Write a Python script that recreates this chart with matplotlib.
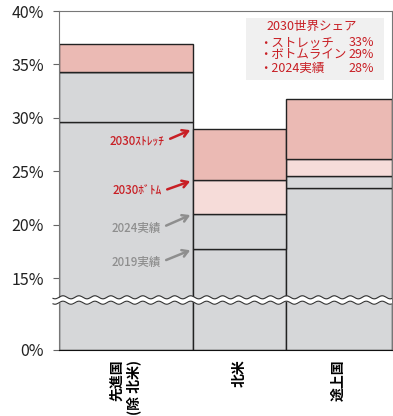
import numpy as np
import matplotlib
matplotlib.use('Agg')
from matplotlib import pyplot as plt
from matplotlib.patches import Rectangle

plt.rcParams['font.family'] = ['Noto Sans CJK JP', 'DejaVu Sans']

# データ（％）
regions = ['先進国\n(除 北米)', '北米', '途上国']
bar_widths = [13.4, 9.3, 10.6]          # 横幅（相対値）
actual_2019 = [29.6, 17.7, 23.4]
actual_2024 = [34.3, 21.0, 24.6]
bottom_2030 = [34.3, 24.15, 26.1]
stretch_2030 = [36.9, 28.95, 31.8]

yticks = [0, 15, 20, 25, 30, 35, 40]
ytick_labels = ['0%', '15%', '20%', '25%', '30%', '35%', '40%']

share_title = '2030世界シェア'
share_labels = ['・ストレッチ', '・ボトムライン', '・2024実績']
share_values = ['33%', '29%', '28%']

GRAY = '#d6d7d9'
PINK = '#ebbab4'
LPINK = '#f6dcd9'
RED = '#c81e24'
TXTGRAY = '#8e8e8e'

# 0〜15% を圧縮する軸
BREAK = 15.0
K = 0.449


def fwd(v):
    v = np.asarray(v, dtype=float)
    return np.where(v >= BREAK, v, BREAK - (BREAK - v) * K)


def inv(v):
    v = np.asarray(v, dtype=float)
    return np.where(v >= BREAK, v, BREAK - (BREAK - v) / K)


fig = plt.figure(figsize=(3.93, 4.16), dpi=100)
ax = fig.add_axes([59 / 393, 1 - 350 / 416, 332.5 / 393, 339 / 416])
ax.set_yscale('function', functions=(fwd, inv))

lefts = np.concatenate([[0], np.cumsum(bar_widths)[:-1]])
layers = [
    (np.zeros(3), actual_2019, GRAY),
    (actual_2019, actual_2024, GRAY),
    (actual_2024, bottom_2030, LPINK),
    (bottom_2030, stretch_2030, PINK),
]
for lo, hi, col in layers:
    lo = np.asarray(lo)
    hi = np.asarray(hi)
    ax.bar(lefts, hi - lo, width=bar_widths, bottom=lo, align='edge',
           color=col, edgecolor='#222222', linewidth=1.0, zorder=2)

ax.set_xlim(0, sum(bar_widths))
ax.set_ylim(0, 40)
ax.set_yticks(yticks)
ax.set_yticklabels(ytick_labels)
ax.yaxis.set_minor_locator(matplotlib.ticker.NullLocator())
ax.tick_params(axis='y', length=4, color='#666666', pad=7, labelsize=11.5,
               labelcolor='#222222')
ax.set_xticks(lefts + np.asarray(bar_widths) / 2)
ax.set_xticklabels(regions, rotation=90, fontweight='bold', fontsize=10,
                   va='top', ha='center', multialignment='right')
ax.tick_params(axis='x', length=0, pad=7)
for s in ['top', 'right', 'left']:
    ax.spines[s].set_color('#777777')
ax.spines['bottom'].set_color('#111111')

# 波線（軸の省略）
xw = np.linspace(-6 / 332.5, 1.0, 400)
wave = 0.0045 * np.sin(2 * np.pi * xw / 0.048)
yc = 0.1475
ax.fill_between(xw, yc - 0.008 + wave, yc + 0.008 + wave, color='white',
                transform=ax.transAxes, zorder=5, clip_on=False, lw=0)
for d in (-0.008, 0.008):
    ax.plot(xw, yc + d + wave, color='#333333', lw=0.8,
            transform=ax.transAxes, zorder=6, clip_on=False)

# 注記
edge = lefts[1]
notes = [
    ('2030ｽﾄﾚｯﾁ', stretch_2030[1], (-28, -12), RED),
    ('2030ﾎﾞﾄﾑ', bottom_2030[1], (-31, -11), RED),
    ('2024実績', actual_2024[1], (-32, -14), TXTGRAY),
    ('2019実績', actual_2019[1], (-32, -13), TXTGRAY),
]
for txt, val, off, col in notes:
    ax.annotate(txt, xy=(edge, val), xytext=off, textcoords='offset pixels',
                ha='right', va='center', fontsize=8.3, fontweight='medium',
                color=col, zorder=7,
                arrowprops=dict(arrowstyle='->,head_length=0.5,head_width=0.3',
                                color=col, lw=1.8, shrinkA=2, shrinkB=2,
                                relpos=(1, 0.5)))

# 世界シェアの枠
ax.add_patch(Rectangle(((246 - 59) / 332.5, (350 - 80) / 339),
                       138 / 332.5, 62 / 339, transform=ax.transAxes,
                       facecolor='#f0f0f0', edgecolor='none', zorder=3))


def ax_y(py):
    return (350 - py) / 339


def ax_x(px):
    return (px - 59) / 332.5


ax.text(ax_x(266), ax_y(26.7), share_title, transform=ax.transAxes,
        ha='left', va='center', fontsize=9, color=RED, zorder=4)
for i, (lab, val) in enumerate(zip(share_labels, share_values)):
    py = [42.3, 54.0, 68.0][i]
    ax.text(ax_x(259), ax_y(py), lab, transform=ax.transAxes,
            ha='left', va='center', fontsize=9, color=RED, zorder=4)
    ax.text(ax_x(374), ax_y(py), val, transform=ax.transAxes,
            ha='right', va='center', fontsize=9, color=RED, zorder=4)

fig.savefig('out.png', dpi=100)
